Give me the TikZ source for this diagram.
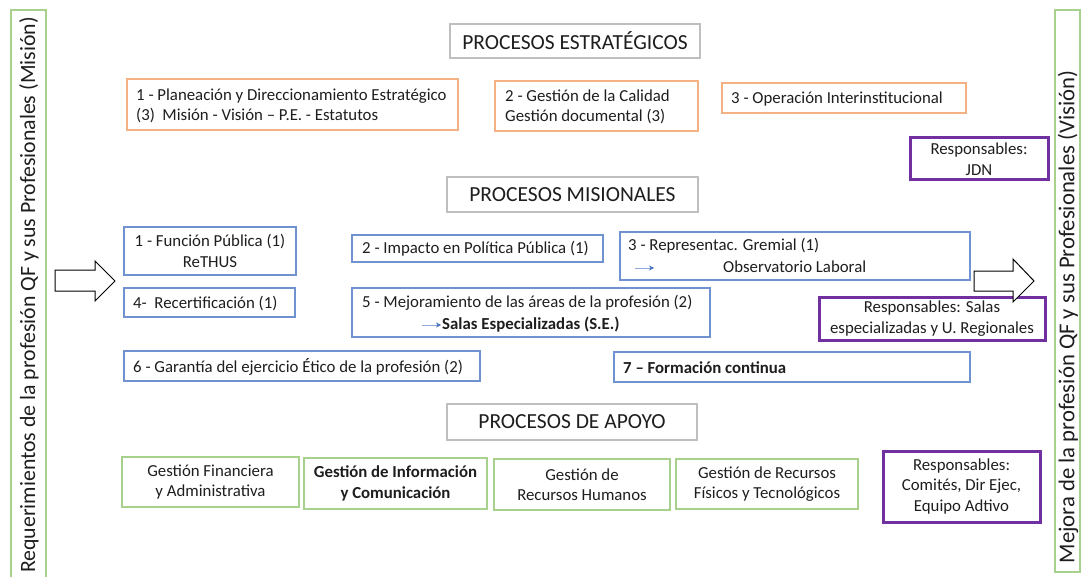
\documentclass[tikz,border=0pt]{standalone}
\usepackage{fontspec}
\setmainfont{Carlito}
\usetikzlibrary{arrows.meta}
\definecolor{orng}{RGB}{244,177,131}
\definecolor{blu}{RGB}{112,146,208}
\definecolor{grn}{RGB}{169,209,142}
\definecolor{purp}{RGB}{112,48,160}
\definecolor{gry}{RGB}{191,191,191}
\definecolor{txt}{RGB}{30,30,30}
\definecolor{arrblu}{RGB}{68,114,196}
\newcommand{\bodyfont}{\fontsize{16.8}{20.5}\selectfont}
\tikzset{
  base/.style={draw, line width=1.1pt, inner sep=0pt, text=txt, font=\bodyfont, align=center},
  hdr/.style={base, draw=gry, font=\fontsize{21.5}{24}\selectfont},
  obox/.style={base, draw=orng},
  bbox/.style={base, draw=blu},
  gbox/.style={base, draw=grn},
  pbox/.style={base, draw=purp, line width=3pt},
  side/.style={base, draw=grn},
  lbl/.style={inner sep=0pt, text=txt, font=\bodyfont, anchor=base west},
  bigarrow/.style={draw=black, line width=1pt, fill=white},
  smallarrow/.style={draw=arrblu!60, line width=1pt, -{Stealth[length=5pt,width=5pt,color=arrblu]}},
}
\begin{document}
\begin{tikzpicture}[x=1pt,y=-1pt]
\useasboundingbox (0,0) rectangle (1083,577);
\fill[white] (0,0) rectangle (1083,577);

% side boxes
\node[side, minimum width=35, minimum height=585] (left) at (28.5,302.5) {};
\node[rotate=90, inner sep=0pt, text=txt, font=\fontsize{21.8}{24}\selectfont] (lefttxt) at (29,295) {Requerimientos de la profesión QF y sus Profesionales (Misión)};
\node[side, minimum width=25, minimum height=562] (right) at (1067.5,291) {};
\node[rotate=90, inner sep=0pt, text=txt, font=\fontsize{22.7}{24}\selectfont] (righttxt) at (1068,317) {Mejora de la profesión QF y sus Profesionales (Visión)};

% left big arrow
\coordinate (la) at (55,270);
\draw[bigarrow] (la) -- ++(40,0) -- ++(0,-9) -- ++(20,20) -- ++(-20,20) -- ++(0,-10) -- ++(-40,0) -- cycle;

% headers
\node[hdr, minimum width=250, minimum height=34] (h1) at (575,41) {PROCESOS ESTRATÉGICOS};
\node[hdr, minimum width=251, minimum height=35] (h2) at (572.5,194.5) {PROCESOS MISIONALES};
\node[hdr, minimum width=250, minimum height=36] (h3) at (572,422) {PROCESOS DE APOYO};

% strategic
\node[obox, minimum width=331, minimum height=51] (o1) at (292.5,104.5) {};
\node[lbl] (o1a) at (136,101) {1 - Planeación y Direccionamiento Estratégico};
\node[lbl] (o1b) at (136,121) {(3)\ \ Misión - Visión -- P.E. - Estatutos};
\node[obox, minimum width=203, minimum height=50] (o2) at (596.5,106) {};
\node[lbl] (o2a) at (505,102) {2 - Gestión de la Calidad};
\node[lbl] (o2b) at (505,122) {Gestión documental (3)};
\node[obox, minimum width=244, minimum height=30] (o3) at (844,98) {};
\node[lbl] (o3a) at (731,104) {3 - Operación Interinstitucional};

\node[pbox, minimum width=138, minimum height=42] (p1) at (979,159) {Responsables:\\JDN};

% misionales
\node[bbox, minimum width=172, minimum height=48] (b1) at (210,251) {1 - Función Pública (1)\\ReTHUS};
\node[bbox, minimum width=251, minimum height=27] (b2) at (477.5,248.5) {};
\node[lbl] (b2a) at (362,254) {2 - Impacto en Política Pública (1)};
\node[bbox, minimum width=350, minimum height=48] (b3) at (795,256) {};
\node[lbl] (b3a) at (628,251) {3 - Representac. Gremial (1)};
\node[lbl] (b3b) at (723,272) {Observatorio Laboral};
\coordinate (s1a) at (635,268);
\coordinate (s1b) at (654,268);
\draw[smallarrow] (s1a) -- (s1b);

\node[bbox, minimum width=171, minimum height=29] (b4) at (209.5,302.5) {};
\node[lbl] (b4a) at (133,308) {4-\ \ Recertificación (1)};
\node[bbox, minimum width=358, minimum height=49] (b5) at (531,312.5) {};
\node[lbl] (b5a) at (362,307) {5 - Mejoramiento de las áreas de la profesión (2)};
\node[lbl, font=\bodyfont\bfseries] (b5b) at (442,329) {Salas Especializadas (S.E.)};
\coordinate (s2a) at (422,325);
\coordinate (s2b) at (441,325);
\draw[smallarrow] (s2a) -- (s2b);

\node[pbox, minimum width=226, minimum height=43] (p2) at (932,318.5) {Responsables: Salas\\especializadas y U. Regionales};

% right big arrow (over the purple box)
\coordinate (ra) at (974,271);
\draw[bigarrow] (ra) -- ++(39,0) -- ++(0,-12) -- ++(21,22) -- ++(-21,21) -- ++(0,-11) -- ++(-39,0) -- cycle;

\node[bbox, minimum width=356, minimum height=30] (b6) at (302,366) {};
\node[lbl] (b6a) at (133,372) {6 - Garantía del ejercicio Ético de la profesión (2)};
\node[bbox, minimum width=356, minimum height=30] (b7) at (792,367) {};
\node[lbl, font=\bodyfont\bfseries] (b7a) at (623,373) {7 -- Formación continua};

% apoyo
\node[gbox, minimum width=177, minimum height=50] (g1) at (210.5,482) {Gestión Financiera\\y Administrativa};
\node[gbox, minimum width=183, minimum height=51, font=\bodyfont\bfseries] (g2) at (395.5,483.5) {Gestión de Información\\y Comunicación};
\node[gbox, minimum width=176, minimum height=51] (g3) at (582,484.5) {Gestión de\\Recursos Humanos};
\node[gbox, minimum width=182, minimum height=50] (g4) at (767,484) {Gestión de Recursos\\Físicos y Tecnológicos};
\node[pbox, minimum width=157, minimum height=71] (p3) at (961.5,486.5) {Responsables:\\Comités, Dir Ejec,\\Equipo Adtivo};

\end{tikzpicture}
\end{document}
